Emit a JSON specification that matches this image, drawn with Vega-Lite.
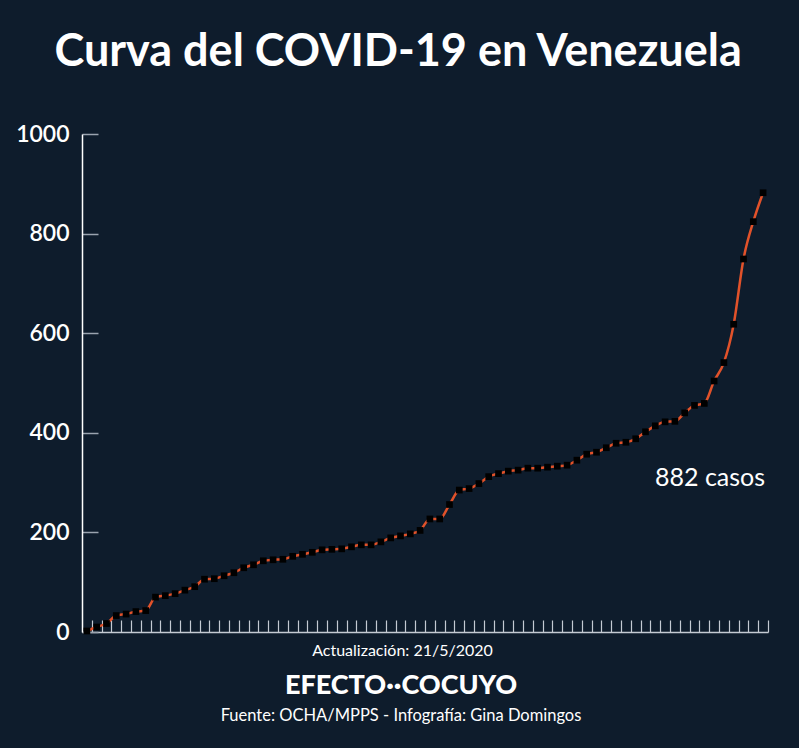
{
  "$schema": "https://vega.github.io/schema/vega-lite/v6.json",
  "background": "#0e1c2c",
  "padding": {"left": 15, "top": 30, "right": 30, "bottom": 25},
  "title": {
    "text": "Curva del COVID-19 en Venezuela",
    "font": "Lato", "fontSize": 45, "fontWeight": "bold", "color": "#ffffff",
    "anchor": "middle", "offset": 48, "dx": 6
  },
  "config": {"view": {"stroke": null}, "concat": {"spacing": 0}},
  "datasets": {
    "casos": [
      {"dia": 0, "casos": 2}, {"dia": 1, "casos": 10}, {"dia": 2, "casos": 17}, {"dia": 3, "casos": 33},
      {"dia": 4, "casos": 36}, {"dia": 5, "casos": 41}, {"dia": 6, "casos": 43}, {"dia": 7, "casos": 70},
      {"dia": 8, "casos": 73}, {"dia": 9, "casos": 77}, {"dia": 10, "casos": 84}, {"dia": 11, "casos": 91},
      {"dia": 12, "casos": 106}, {"dia": 13, "casos": 107}, {"dia": 14, "casos": 113}, {"dia": 15, "casos": 119},
      {"dia": 16, "casos": 129}, {"dia": 17, "casos": 135}, {"dia": 18, "casos": 143}, {"dia": 19, "casos": 145},
      {"dia": 20, "casos": 146}, {"dia": 21, "casos": 152}, {"dia": 22, "casos": 156}, {"dia": 23, "casos": 160},
      {"dia": 24, "casos": 165}, {"dia": 25, "casos": 166}, {"dia": 26, "casos": 167}, {"dia": 27, "casos": 171},
      {"dia": 28, "casos": 175}, {"dia": 29, "casos": 175}, {"dia": 30, "casos": 181}, {"dia": 31, "casos": 189},
      {"dia": 32, "casos": 193}, {"dia": 33, "casos": 197}, {"dia": 34, "casos": 204}, {"dia": 35, "casos": 227},
      {"dia": 36, "casos": 227}, {"dia": 37, "casos": 256}, {"dia": 38, "casos": 285}, {"dia": 39, "casos": 288},
      {"dia": 40, "casos": 298}, {"dia": 41, "casos": 312}, {"dia": 42, "casos": 318}, {"dia": 43, "casos": 323},
      {"dia": 44, "casos": 325}, {"dia": 45, "casos": 329}, {"dia": 46, "casos": 329}, {"dia": 47, "casos": 331},
      {"dia": 48, "casos": 333}, {"dia": 49, "casos": 335}, {"dia": 50, "casos": 345}, {"dia": 51, "casos": 357},
      {"dia": 52, "casos": 361}, {"dia": 53, "casos": 370}, {"dia": 54, "casos": 379}, {"dia": 55, "casos": 381},
      {"dia": 56, "casos": 388}, {"dia": 57, "casos": 402}, {"dia": 58, "casos": 414}, {"dia": 59, "casos": 422},
      {"dia": 60, "casos": 423}, {"dia": 61, "casos": 440}, {"dia": 62, "casos": 455}, {"dia": 63, "casos": 459},
      {"dia": 64, "casos": 504}, {"dia": 65, "casos": 541}, {"dia": 66, "casos": 618}, {"dia": 67, "casos": 749},
      {"dia": 68, "casos": 824}, {"dia": 69, "casos": 882}
    ],
    "anotacion": [{"dia": 69, "casos": 882, "etiqueta": "882 casos"}]
  },
  "vconcat": [
    {
      "width": 686,
      "height": 498,
      "title": {
        "text": "EFECTO··COCUYO",
        "subtitle": "Fuente: OCHA/MPPS - Infografía: Gina Domingos",
        "orient": "bottom", "anchor": "middle", "dx": -24,
        "font": "Lato", "fontSize": 27, "fontWeight": 900, "color": "#ffffff",
        "subtitleFont": "Lato", "subtitleFontSize": 16.5, "subtitleColor": "#ffffff", "subtitlePadding": 8,
        "offset": 14
      },
      "encoding": {
        "x": {
          "field": "dia", "type": "quantitative",
          "scale": {"domain": [-0.5, 69.5], "nice": false, "zero": false},
          "axis": {
            "values": [0.5,1.5,2.5,3.5,4.5,5.5,6.5,7.5,8.5,9.5,10.5,11.5,12.5,13.5,14.5,15.5,16.5,17.5,18.5,19.5,20.5,21.5,22.5,23.5,24.5,25.5,26.5,27.5,28.5,29.5,30.5,31.5,32.5,33.5,34.5,35.5,36.5,37.5,38.5,39.5,40.5,41.5,42.5,43.5,44.5,45.5,46.5,47.5,48.5,49.5,50.5,51.5,52.5,53.5,54.5,55.5,56.5,57.5,58.5,59.5,60.5,61.5,62.5,63.5,64.5,65.5,66.5,67.5,68.5,69.5],
            "labels": false, "grid": false,
            "tickSize": -12, "tickColor": "#c4cad3", "tickWidth": 1.2,
            "domainColor": "#c4cad3", "domainWidth": 1.5,
            "title": "Actualización: 21/5/2020",
            "titleFont": "Lato", "titleFontSize": 16, "titleFontWeight": "normal", "titleColor": "#ffffff",
            "titlePadding": 10, "titleX": 320, "titleAlign": "center"
          }
        },
        "y": {
          "field": "casos", "type": "quantitative",
          "scale": {"domain": [0, 1000], "nice": false},
          "axis": {
            "values": [0, 200, 400, 600, 800, 1000], "format": "d",
            "grid": false, "title": null,
            "tickSize": -16, "tickColor": "#9aa3af", "tickWidth": 1.5,
            "domainColor": "#ffffff", "domainWidth": 1.5,
            "labelFont": "Lato", "labelFontSize": 23, "labelFontWeight": 600, "labelColor": "#ffffff",
            "labelPadding": 29, "minExtent": 66, "maxExtent": 66
          }
        }
      },
      "layer": [
        {
          "data": {"name": "casos"},
          "mark": {"type": "line", "color": "#e2522a", "strokeWidth": 2.5, "interpolate": "monotone"}
        },
        {
          "data": {"name": "casos"},
          "mark": {"type": "point", "shape": "square", "filled": true, "color": "#000000", "size": 45, "opacity": 1}
        },
        {
          "data": {"name": "anotacion"},
          "mark": {"type": "text", "align": "right", "baseline": "middle", "dx": 2, "dy": 285,
                   "font": "Lato", "fontSize": 25, "color": "#ffffff"},
          "encoding": {"text": {"field": "etiqueta"}}
        }
      ]
    }
  ]
}
